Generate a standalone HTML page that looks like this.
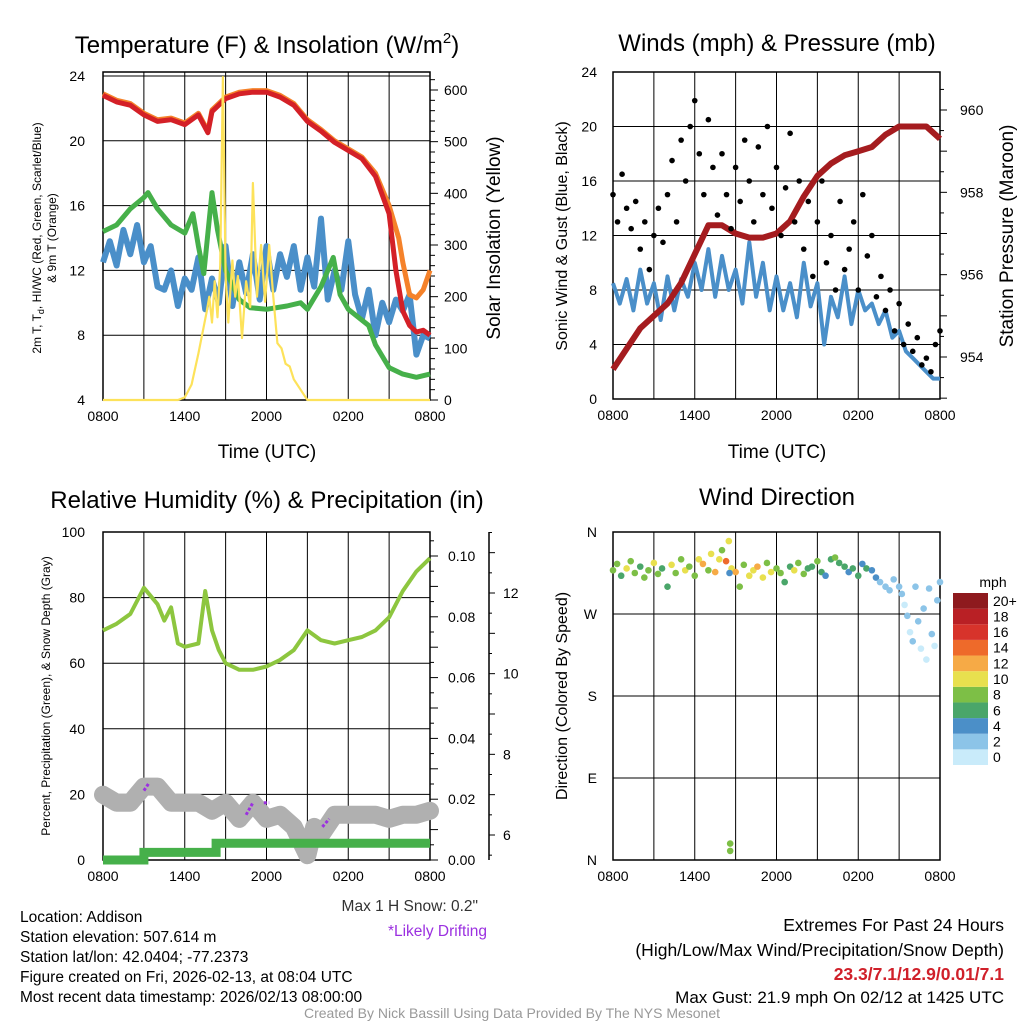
<!DOCTYPE html>
<html><head><meta charset="utf-8">
<style>
body{margin:0;background:#fff;}
svg text{font-family:"Liberation Sans",sans-serif;}
</style></head>
<body>
<svg id="s" width="1024" height="1024" viewBox="0 0 1024 1024" xmlns="http://www.w3.org/2000/svg">
<rect width="1024" height="1024" fill="#fff"/>
<g id="static" font-size="14" fill="#000">
<text x="267" y="53" font-size="24" text-anchor="middle">Temperature (F) &amp; Insolation (W/m<tspan dy="-10" font-size="15">2</tspan><tspan dy="10">)</tspan></text>
<text x="777" y="51" font-size="24" text-anchor="middle">Winds (mph) &amp; Pressure (mb)</text>
<text x="267" y="508" font-size="24" text-anchor="middle">Relative Humidity (%) &amp; Precipitation (in)</text>
<text x="777" y="505" font-size="24" text-anchor="middle">Wind Direction</text>
<text x="267" y="458" font-size="19" text-anchor="middle">Time (UTC)</text>
<text x="777" y="458" font-size="19" text-anchor="middle">Time (UTC)</text>
<text transform="translate(41,238) rotate(-90)" font-size="12" text-anchor="middle">2m T, T<tspan dy="3" font-size="9">d</tspan><tspan dy="-3">, HI/WC (Red, Green, Scarlet/Blue)</tspan></text>
<text transform="translate(56,238) rotate(-90)" font-size="12" text-anchor="middle">&amp; 9m T (Orange)</text>
<text transform="translate(500,238) rotate(-90)" font-size="19" text-anchor="middle">Solar Insolation (Yellow)</text>
<text transform="translate(567,236) rotate(-90)" font-size="16" text-anchor="middle">Sonic Wind &amp; Gust (Blue, Black)</text>
<text transform="translate(1013,236) rotate(-90)" font-size="19" text-anchor="middle">Station Pressure (Maroon)</text>
<text transform="translate(50,696) rotate(-90)" font-size="12" text-anchor="middle">Percent, Precipitation (Green), &amp; Snow Depth (Gray)</text>
<text transform="translate(567,696) rotate(-90)" font-size="16" text-anchor="middle">Direction (Colored By Speed)</text>
<text x="478" y="911" font-size="15.5" text-anchor="end" fill="#333">Max 1 H Snow: 0.2"</text>
<text x="487" y="936" font-size="15.5" text-anchor="end" fill="#9b30e0">*Likely Drifting</text>
<g font-size="15.5">
<text x="20" y="922">Location: Addison</text>
<text x="20" y="942">Station elevation: 507.614 m</text>
<text x="20" y="962">Station lat/lon: 42.0404; -77.2373</text>
<text x="20" y="982">Figure created on Fri, 2026-02-13, at 08:04 UTC</text>
<text x="20" y="1002">Most recent data timestamp: 2026/02/13 08:00:00</text>
</g>
<g font-size="17.5" text-anchor="end">
<text x="1004" y="931">Extremes For Past 24 Hours</text>
<text x="1004" y="956">(High/Low/Max Wind/Precipitation/Snow Depth)</text>
<text x="1004" y="980" fill="#d0202a" font-weight="bold">23.3/7.1/12.9/0.01/7.1</text>
<text x="1004" y="1003" font-size="17">Max Gust: 21.9 mph On 02/12 at 1425 UTC</text>
</g>
<text x="512" y="1018" font-size="14" text-anchor="middle" fill="#999">Created By Nick Bassill Using Data Provided By The NYS Mesonet</text>
<text x="993" y="587" font-size="14" text-anchor="middle">mph</text>
</g>
<g id="dyn"></g>
</svg>
<script>
// ---------- data ----------
const xTickLabels=["0800","1400","2000","0200","0800"];
const tempT_h=[0,1,2,3,4,5,6,7,7.7,8,9,10,11,12,13,14,15,16,17,18,19,20,21,21.5,22,22.5,23,23.5,24];
const tempT=[22.8,22.4,22.2,21.6,21.2,21.3,21.0,21.6,20.5,21.8,22.6,22.9,23.0,23.0,22.7,22.2,21.2,20.6,19.9,19.4,18.9,17.8,15.5,12,9.5,8.6,8.2,8.3,8.0];
const temp9_h=[0,1,2,3,4,5,6,7,7.7,8,9,10,11,12,13,14,15,16,17,18,19,20,21,21.7,22,22.5,23,23.5,24];
const temp9=[22.9,22.5,22.3,21.7,21.3,21.4,21.1,21.7,20.6,21.9,22.7,23.0,23.1,23.1,22.8,22.3,21.3,20.7,20.0,19.5,19.0,18.0,16.0,14.0,12.5,10.5,10.3,10.8,12.0];
const dew_h=[0,1,2,3,3.3,4,5,6,6.6,7,7.4,8,8.4,9,10,10.8,12,13.5,14.5,15,16,16.9,17.4,18,19.5,20,21,22,23,24];
const dew=[14.4,14.8,15.8,16.5,16.8,15.8,14.8,14.3,15.5,13.5,11.8,16.8,14.5,12.0,10.2,9.7,9.6,9.8,10.0,9.6,11.0,12.8,10.5,9.6,8.6,7.4,6.0,5.6,5.4,5.6];
const wc=[12.5,13.8,12.3,14.5,13.0,14.8,12.5,13.5,11.0,10.8,12.0,9.8,11.5,10.8,12.8,9.6,11.5,10.0,13.5,9.8,12.5,10.6,13.0,10.2,13.5,10.8,13.0,11.6,13.5,10.8,12.8,11.0,15.2,10.2,12.0,10.8,13.8,10.5,9.0,10.8,8.0,10.0,8.8,10.2,9.5,10.5,6.8,8.0,7.8];
const solar_h=[0,5.5,6,6.5,7,7.3,7.6,7.8,8.0,8.2,8.4,8.6,8.8,9.0,9.2,9.5,9.7,9.9,10.2,10.5,10.8,11.0,11.3,11.6,11.9,12.2,12.5,12.8,13.1,13.4,13.7,14.0,14.5,15,24];
const solar=[0,0,5,30,90,130,170,200,150,230,160,260,625,240,150,270,200,240,120,230,180,420,200,300,190,300,200,110,100,70,65,40,20,0,0];
const wind=[8.5,7.0,8.8,6.5,9.5,7.0,8.5,5.8,9.0,6.5,8.8,7.5,10.0,8.0,11.0,7.5,10.5,8.0,9.5,7.0,11.5,7.5,10.0,6.5,9.0,6.5,8.5,6.0,10.0,6.8,8.5,4.0,7.5,6.0,9.0,5.5,8.0,6.5,7.0,5.5,6.5,4.5,5.0,3.5,3.0,2.5,2.0,1.5,1.5];
const gust=[15,13,16.5,14,12.5,14.5,11,13,9.5,12,14,11.5,15,17.5,13,19,16,20,21.9,18,15,20.5,17,13.5,18,15,12.5,17,14.5,19,16,13,18.5,15,20,14,17,12,15.5,19.5,13,16,11,14.5,9,13,16,10,12,8,14.5,9.5,11,13,8,15,10.5,12,7.5,9,6.5,8,5,7,4,5.5,3.5,4.5,2.5,3,2,4,5];
const pres=[953.7,954.2,954.7,955.0,955.3,955.8,956.5,957.2,957.2,957.0,956.9,956.9,957.0,957.3,957.9,958.4,958.7,958.9,959.0,959.1,959.4,959.6,959.6,959.6,959.3];
const rh_h=[0,1,2,3,4,4.5,5,5.5,6,7,7.5,8,8.5,9,10,11,12,13,14,15,16,17,18,19,20,21,22,23,24];
const rh=[70,72,75,83,78,73,77,66,65,66,82,70,64,60,58,58,59,61,64,70,67,66,67,68,70,74,82,88,92];
const precip_h=[0,3,3,8.3,8.3,24];
const precip=[0,0,0.0025,0.0025,0.0055,0.0055];
const snow_h=[0,1,2,3,4,5,6,7,8,9,10,11,12,13,14,15,15.5,16,17,18,19,20,21,22,23,24];
const snow=[7.0,6.8,6.8,7.2,7.2,6.8,6.8,6.8,6.6,6.8,6.4,6.8,6.4,6.5,6.2,5.5,6.2,6.0,6.5,6.5,6.5,6.5,6.4,6.5,6.5,6.6];
const drift_h=[[3,3.4],[10.5,11],[11.8,12.2],[16.1,16.6]];
const drift_v=[[7.1,7.3],[6.5,6.8],[6.8,6.8],[6.2,6.4]];
const dir_h=[0,0.3,0.6,1,1.3,1.6,2,2.3,2.6,3,3.3,3.6,4,4.3,4.6,5,5.3,5.6,6,6.3,6.6,7,7.2,7.5,7.8,8,8.3,8.5,8.7,9,9.3,9.6,10,10.3,10.6,11,11.3,11.6,12,12.3,12.6,13,13.3,13.6,14,14.3,14.6,15,15.3,15.6,16,16.3,16.6,17,17.3,17.6,18,18.3,18.6,19,19.3,19.6,20,20.3,20.6,21,21.2,21.4,21.6,21.8,22,22.2,22.4,22.6,22.8,23,23.2,23.4,23.6,23.8,24,8.55,8.6,8.6];
const dir=[318,325,312,320,328,315,322,310,318,326,314,320,300,324,315,330,318,322,312,330,325,318,336,316,330,340,328,350,320,316,300,324,312,318,322,310,326,316,320,315,305,322,318,326,314,320,322,328,316,312,330,332,326,322,316,320,312,325,320,318,310,305,300,296,308,300,292,280,268,250,240,300,262,232,276,220,298,248,235,285,305,315,10,18];
const dspd=[7,8,6,9,7,8,6,7,8,9,7,6,6,10,8,7,9,8,7,10,11,8,9,12,10,8,13,10,9,11,7,8,10,9,11,10,8,9,7,8,5,6,9,8,7,6,5,8,6,4,5,7,6,5,4,6,5,4,5,4,3,2,2,1,2,2,1,0,1,0,1,2,1,0,1,0,2,1,0,1,2,3,7,8,8];
const cbLabels=["0","2","4","6","8","10","12","14","16","18","20+"];
const cbColors=["#c9ebfa","#8cc4e8","#4b8fc8","#4aa66a","#7dbf46","#e8e04e","#f6aa46","#ee6a2a","#d7332b","#b92025","#8e1a1e"];
// ---------- helpers ----------
const NS="http://www.w3.org/2000/svg";
const root=document.getElementById('dyn');
function el(tag,attrs,parent){const e=document.createElementNS(NS,tag);for(const k in attrs)e.setAttribute(k,attrs[k]);(parent||root).appendChild(e);return e;}
function txt(x,y,s,attrs){const e=el('text',Object.assign({x:x,y:y,'font-size':14},attrs||{}));e.textContent=s;return e;}
function lin(d0,d1,r0,r1){return v=>r0+(v-d0)/(d1-d0)*(r1-r0);}
function pathD(xs,ys,fx,fy){return xs.map((v,i)=>(i?'L':'M')+fx(v).toFixed(1)+','+fy(ys[i]).toFixed(1)).join('');}
function idx(n,step){return Array.from({length:n},(_,i)=>i*step);}
function frame(x0,y0,x1,y1,hg,fy,name){
  const g=el('g',{});
  
  
  for(let h=0;h<=24;h+=3){const x=x0+(x1-x0)*h/24;el('line',{x1:x,y1:y0,x2:x,y2:y1,stroke:'#000','stroke-width':1},g);}
  hg.forEach(v=>{const y=fy(v);el('line',{x1:x0,y1:y,x2:x1,y2:y,stroke:'#000','stroke-width':1},g);});
  el('rect',{x:x0,y:y0,width:x1-x0,height:y1-y0,fill:'none',stroke:'#000','stroke-width':1.5},g);
  xTickLabels.forEach((s,i)=>{const t=txt(x0+(x1-x0)*i/4,y1+21,s,{'text-anchor':'middle'});});
  return g;
}
// ---------- panel 1 ----------
{const X=lin(0,24,103,430),Y=lin(4,24,400,76),YS=lin(0,600,400,90);
 frame(103,72,430,400,[4,8,12,16,20,24],Y,'temp-plot-frame');
 [4,8,12,16,20,24].forEach(v=>{const t=txt(85,Y(v)+5,String(v),{'text-anchor':'end'});});
 for(let v=0;v<=625;v+=20){el('line',{x1:430,y1:YS(v),x2:v%100?435:438,y2:YS(v),stroke:'#000'});}
 [0,100,200,300,400,500,600].forEach(v=>{const t=txt(444,YS(v)+5,String(v));});
 let p;
 p=el('path',{d:pathD(idx(49,0.5),wc,X,Y),fill:'none',stroke:'#4a8fc9','stroke-width':6,'stroke-linejoin':'round'});
 
 p=el('path',{d:pathD(dew_h,dew,X,Y),fill:'none',stroke:'#46b04a','stroke-width':5,'stroke-linejoin':'round'});
 
 p=el('path',{d:pathD(temp9_h,temp9,X,Y),fill:'none',stroke:'#f5822a','stroke-width':5,'stroke-linejoin':'round'});
 
 p=el('path',{d:pathD(tempT_h,tempT,X,Y),fill:'none',stroke:'#d42027','stroke-width':5,'stroke-linejoin':'round'});
 
 p=el('path',{d:pathD(solar_h,solar,X,YS),fill:'none',stroke:'#fde25a','stroke-width':2.2,'stroke-linejoin':'round'});
 
}
// ---------- panel 2 ----------
{const X=lin(0,24,613,940),Y=lin(0,24,399,72),YP=lin(954,960,357,110);
 frame(613,72,940,399,[0,4,8,12,16,20,24],Y,'wind-plot-frame');
 [0,4,8,12,16,20,24].forEach(v=>{const t=txt(597,Y(v)+5,String(v),{'text-anchor':'end'});});
 for(let v=953;v<=960.9;v+=0.5){el('line',{x1:940,y1:YP(v),x2:v%1?944:947,y2:YP(v),stroke:'#000'});}
 [954,956,958,960].forEach(v=>{const t=txt(960,YP(v)+5,String(v));});
 let p=el('path',{d:pathD(idx(49,0.5),wind,X,Y),fill:'none',stroke:'#4a8fc9','stroke-width':4,'stroke-linejoin':'round'});
 
 p=el('path',{d:pathD(idx(25,1),pres,X,YP),fill:'none',stroke:'#a51c1f','stroke-width':6,'stroke-linejoin':'round'});
 
 gust.forEach((v,i)=>{const c=el('circle',{cx:X(i/3),cy:Y(v),r:2.8,fill:'#000'});
  
  });
}
// ---------- panel 3 ----------
{const X=lin(0,24,103,430),Y=lin(0,100,860,532),YR=lin(0,0.1,860,556),YSn=lin(6,12,835,593);
 frame(103,532,430,860,[0,20,40,60,80,100],Y,'rh-plot-frame');
 [0,20,40,60,80,100].forEach(v=>{const t=txt(85,Y(v)+5,String(v),{'text-anchor':'end'});});
 for(let v=0;v<=0.1051;v+=0.005){el('line',{x1:430,y1:YR(v),x2:Math.round(v*1000)%10?434:438,y2:YR(v),stroke:'#000'});}
 [0,0.02,0.04,0.06,0.08,0.10].forEach(v=>{const t=txt(448,YR(v)+5,v.toFixed(2));});
 el('line',{x1:489,y1:532,x2:489,y2:860,stroke:'#000','stroke-width':1.5});
 for(let v=5.5;v<=13.6;v+=0.5){el('line',{x1:489,y1:YSn(v),x2:v%1?492:495,y2:YSn(v),stroke:'#000'});}
 [6,8,10,12].forEach(v=>{const t=txt(503,YSn(v)+5,String(v));});
 let p=el('path',{d:pathD(snow_h,snow,X,YSn),fill:'none',stroke:'#b0b0b0','stroke-width':18,'stroke-linejoin':'round','stroke-linecap':'round'});
 
 drift_h.forEach((hh,i)=>{const q=el('path',{d:pathD(hh,drift_v[i],X,YSn),fill:'none',stroke:'#9b30e0','stroke-width':3,'stroke-dasharray':'3 2'});
  
  });
 p=el('path',{d:pathD(precip_h,precip,X,YR),fill:'none',stroke:'#46b04a','stroke-width':9});
 
 p=el('path',{d:pathD(rh_h,rh,X,Y),fill:'none',stroke:'#8dc63f','stroke-width':4,'stroke-linejoin':'round'});
 
}
// ---------- panel 4 ----------
{const X=lin(0,24,613,940),Y=lin(360,0,532,860);
 frame(613,532,940,860,[0,90,180,270,360],Y,'wdir-plot-frame');
 [[360,'N'],[270,'W'],[180,'S'],[90,'E'],[0,'N']].forEach(a=>{const t=txt(597,Y(a[0])+5,a[1],{'text-anchor':'end'});});
 dir.forEach((d,i)=>{const ci=Math.min(10,Math.round(dspd[i]/2));const c=el('circle',{cx:X(dir_h[i]),cy:Y(d),r:3.3,fill:cbColors[ci]});
  
  });
 const bh=(765-593)/11;
 cbColors.forEach((c,i)=>{const y=765-(i+1)*bh;const r=el('rect',{x:953,y:y,width:35,height:bh,fill:c});
  
  
  const t=txt(993,y+bh/2+5,cbLabels[i]);
  
  });
}
</script>
</body></html>
